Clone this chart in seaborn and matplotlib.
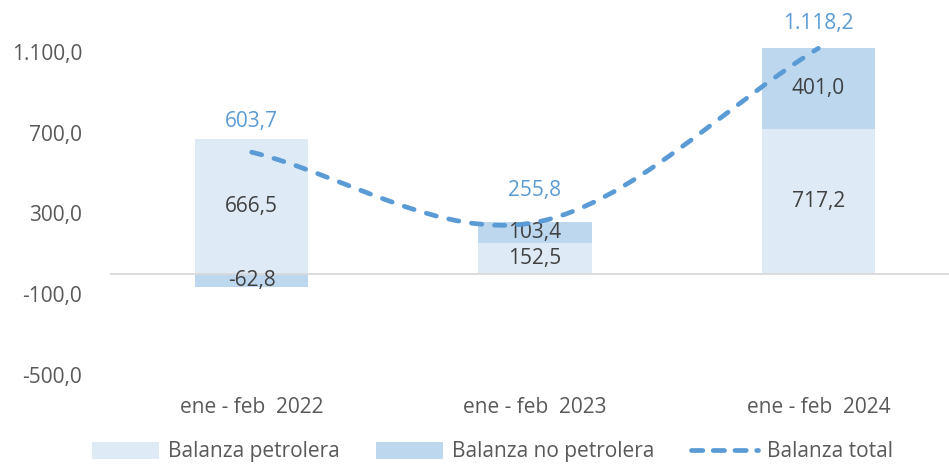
import numpy as np
import pandas as pd
import matplotlib
matplotlib.use("Agg")
import matplotlib.pyplot as plt
from matplotlib.path import Path
from matplotlib.patches import PathPatch, Patch
from matplotlib.lines import Line2D
import seaborn as sns

# ---- data ----
categories = ["ene - feb  2022", "ene - feb  2023", "ene - feb  2024"]
petrolera = [666.5, 152.5, 717.2]
no_petrolera = [-62.8, 103.4, 401.0]
total = [603.7, 255.8, 1118.2]
yticks = [-500, -100, 300, 700, 1100]
legend_labels = ["Balanza petrolera", "Balanza no petrolera", "Balanza total"]

C_PET = "#DEEBF7"
C_NOP = "#BDD7EE"
C_LINE = "#5B9BD5"
C_TXT = "#404040"
C_AX = "#595959"
FS = 15

sns.set_style("white")
plt.rcParams["font.family"] = ["Open Sans", "DejaVu Sans"]

def fmt(v):
    s = f"{v:,.1f}"
    return s.replace(",", "X").replace(".", ",").replace("X", ".")

fig = plt.figure(figsize=(9.49, 4.65), dpi=100)
ax = fig.add_axes([110 / 949, 90 / 465, 850 / 949, 363.4 / 465])

df = pd.DataFrame({"periodo": categories, "petrolera": petrolera,
                   "no_petrolera": no_petrolera})
bottom = np.where(np.array(no_petrolera) < 0, 0, np.array(petrolera))

sns.barplot(data=df, x="periodo", y="petrolera", color=C_PET, saturation=1,
            width=0.4, errorbar=None, linewidth=0, ax=ax)
sns.barplot(data=df, x="periodo", y="no_petrolera", color=C_NOP, saturation=1,
            width=0.4, errorbar=None, linewidth=0, bottom=bottom, ax=ax)

ax.set_xlim(-0.5, 2.5)
ax.set_ylim(-500, 1300)
ax.axhline(0, color="#D9D9D9", lw=1.3, zorder=1)

# labels inside bars
ax.bar_label(ax.containers[0], labels=[fmt(v) for v in petrolera],
             label_type="center", color=C_TXT, fontsize=FS)
ax.bar_label(ax.containers[1], labels=[fmt(v) for v in no_petrolera],
             label_type="center", color=C_TXT, fontsize=FS)

# smoothed total line (Catmull-Rom style Bezier through data points)
xs = np.arange(len(total), dtype=float)
ys = np.array(total, dtype=float)
n = len(xs)
tx = np.zeros(n); ty = np.zeros(n)
for i in range(n):
    if i == 0:
        tx[i], ty[i] = xs[1] - xs[0], ys[1] - ys[0]
    elif i == n - 1:
        tx[i], ty[i] = xs[-1] - xs[-2], ys[-1] - ys[-2]
    else:
        tx[i], ty[i] = (xs[i + 1] - xs[i - 1]) / 2, (ys[i + 1] - ys[i - 1]) / 2
verts = [(xs[0], ys[0])]
codes = [Path.MOVETO]
for i in range(n - 1):
    verts += [(xs[i] + tx[i] / 3, ys[i] + ty[i] / 3),
              (xs[i + 1] - tx[i + 1] / 3, ys[i + 1] - ty[i + 1] / 3),
              (xs[i + 1], ys[i + 1])]
    codes += [Path.CURVE4] * 3
patch = PathPatch(Path(verts, codes), fill=False, edgecolor=C_LINE, lw=3.4,
                  linestyle=(0, (2.2, 2.7)), capstyle="round", zorder=4,
                  clip_on=False)
ax.add_patch(patch)

# total labels
offsets = [22, 23, 18]
for x, v, off in zip(xs, total, offsets):
    ax.annotate(fmt(v), (x, v), xytext=(0, off), textcoords="offset points",
                ha="center", va="center", color=C_LINE, fontsize=FS)

ax.set_yticks(yticks)
ax.set_yticklabels([fmt(v) for v in yticks])
ax.tick_params(axis="both", length=0, colors=C_AX, labelsize=FS)
ax.tick_params(axis="y", pad=20)
ax.tick_params(axis="x", pad=16)
ax.set_xlabel("")
ax.set_ylabel("")
for s in ax.spines.values():
    s.set_visible(False)

handles = [Patch(facecolor=C_PET, edgecolor="none"),
           Patch(facecolor=C_NOP, edgecolor="none"),
           Line2D([0], [0], color=C_LINE, lw=3.4, linestyle=(0, (2.4, 2.2)),
                  dash_capstyle="round")]
fig.legend(handles, legend_labels, loc="center", bbox_to_anchor=(0.519, 0.028),
           ncol=3, frameon=False, fontsize=FS, labelcolor=C_AX,
           handlelength=3.2, handleheight=0.85, handletextpad=0.45,
           columnspacing=1.75)

fig.savefig("out.png", dpi=100)
